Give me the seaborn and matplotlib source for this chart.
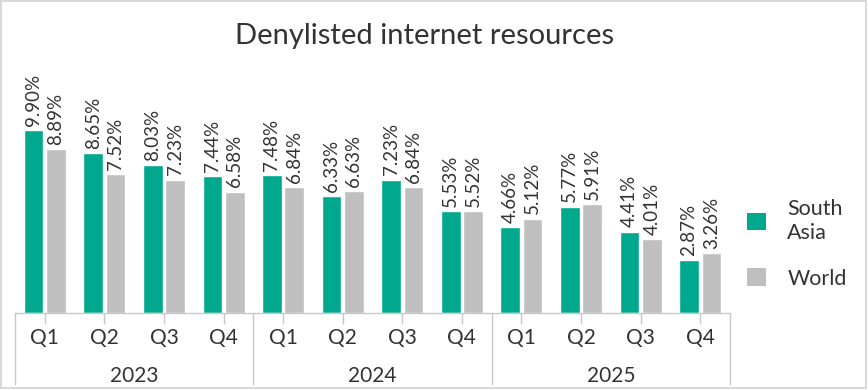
import numpy as np
import pandas as pd
import seaborn as sns
import matplotlib.pyplot as plt
from matplotlib.patches import Rectangle, Patch

years = ['2023', '2024', '2025']
quarters = ['Q1', 'Q2', 'Q3', 'Q4']
south_asia = [9.90, 8.65, 8.03, 7.44, 7.48, 6.33, 7.23, 5.53, 4.66, 5.77, 4.41, 2.87]
world = [8.89, 7.52, 7.23, 6.58, 6.84, 6.63, 6.84, 5.52, 5.12, 5.91, 4.01, 3.26]
series = ['South Asia', 'World']
colors = ['#00A88E', '#BFBFBF']

periods = [y + ' ' + q for y in years for q in quarters]
df = pd.DataFrame({
    'period': periods * 2,
    'value': south_asia + world,
    'series': [series[0]] * len(periods) + [series[1]] * len(periods),
})

sns.set_theme(style='white')
plt.rcParams['font.family'] = ['Lato', 'DejaVu Sans']
text_color = '#333333'
line_color = '#C8C8C8'

W, H = 868, 390
fig = plt.figure(figsize=(W / 100, H / 100), dpi=100)
left, right, base, top = 15, 730, 313, 75
ax = fig.add_axes([left / W, 1 - base / H, (right - left) / W, (base - top) / H])

sns.barplot(data=df, x='period', y='value', hue='series', palette=colors,
            width=0.75, gap=0.12, ax=ax, legend=False, saturation=1)

for cont in ax.containers:
    labels = [f'{v:.2f}%' for v in cont.datavalues]
    ax.bar_label(cont, labels=labels, rotation=90, padding=3, fontsize=13.5, color=text_color)

n = len(periods)
ax.set_xlim(-0.5, n - 0.5)
ax.set_ylim(0, (base - top) / 18.45)
ax.set_xlabel('')
ax.set_ylabel('')
ax.set_yticks([])
ax.set_xticks(range(n))
ax.set_xticklabels(quarters * len(years), fontsize=15, color=text_color)
ax.tick_params(axis='x', length=8, width=1, color=line_color, pad=3, bottom=True)
for s in ['top', 'right', 'left']:
    ax.spines[s].set_visible(False)
ax.spines['bottom'].set_color(line_color)
ax.spines['bottom'].set_linewidth(1)

# year group separators and labels
trans = ax.get_xaxis_transform()
for i in range(len(years) + 1):
    xpos = i * 4 - 0.5
    ax.plot([xpos, xpos], [0, -(384 - base) / (base - top)], transform=trans,
            color=line_color, lw=1, clip_on=False)
for i, y in enumerate(years):
    ax.text(i * 4 + 1.5, -(376 - base) / (base - top), y, transform=trans,
            ha='center', va='center', fontsize=15, color=text_color)

fig.text(425 / W, 1 - 36 / H, 'Denylisted internet resources', ha='center', va='center',
         fontsize=21, color=text_color)

handles = [Patch(facecolor=c, edgecolor='none') for c in colors]
fig.legend(handles, ['South\nAsia', 'World'], loc='center left',
           bbox_to_anchor=(728 / W, 1 - 244 / H), frameon=False, fontsize=15.5,
           handlelength=0.85, handleheight=0.85, handletextpad=1.0, labelspacing=1.2,
           labelcolor=text_color)

fig.patches.append(Rectangle((0.001, 0.004), 0.997, 0.994, transform=fig.transFigure,
                             fill=False, edgecolor='#D9D9D9', lw=1.5))

fig.savefig('out.png', dpi=100)
